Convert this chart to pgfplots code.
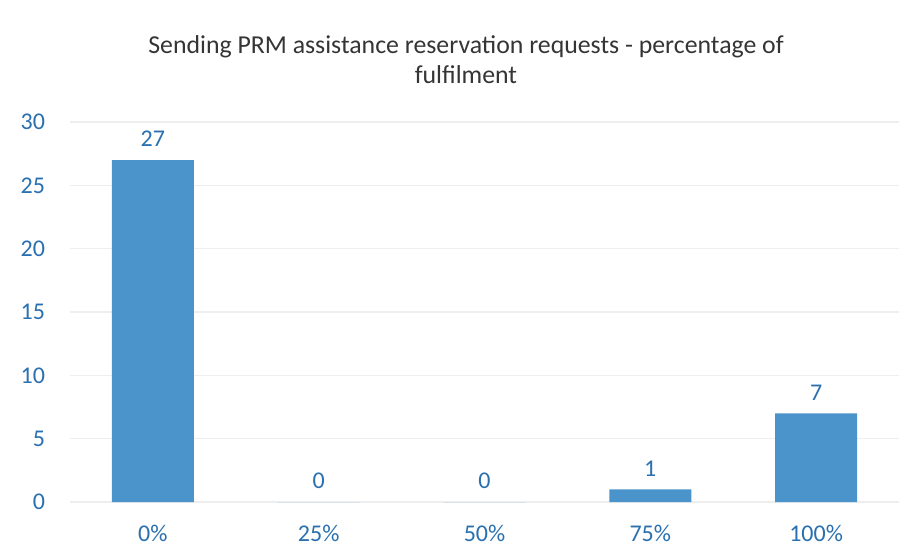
\documentclass[border=0pt]{standalone}
\usepackage{pgfplots}
\pgfplotsset{compat=1.18}
\usepackage{fontspec}
\setmainfont{Carlito}
\definecolor{barblue}{HTML}{4A94CB}
\definecolor{baredge}{HTML}{3D82B8}
\definecolor{tickblue}{HTML}{2A70B0}
\definecolor{titlegray}{HTML}{353535}
\definecolor{gridgray}{HTML}{EEEEEE}
\begin{document}
\begin{tikzpicture}
\useasboundingbox[fill=white] (0,0) rectangle (461pt,279.5pt);
\node[align=center, font=\fontsize{12.9}{15}\selectfont, text=titlegray] at (233pt,249.5pt)
  {Sending PRM assistance reservation requests - percentage of\\fulfilment};
\begin{axis}[
  at={(35pt,28.5pt)}, anchor=south west,
  scale only axis, width=414.5pt, height=190pt,
  xmin=-0.5, xmax=4.5, ymin=0, ymax=30,
  ytick={0,5,...,30},
  xtick=data,
  xticklabels={0\%,25\%,50\%,75\%,100\%},
  axis line style={draw=none},
  major tick length=0pt,
  ymajorgrids, grid style={gridgray, line width=0.6pt},
  ticklabel style={font=\fontsize{12}{14}\selectfont, text=tickblue},
  yticklabel style={xshift=-9pt},
  xticklabel style={yshift=-8pt},
  /pgf/number format/assume math mode=true,
  ybar, bar width=41pt,
  nodes near coords,
  every node near coord/.append style={font=\fontsize{12}{14}\selectfont, text=tickblue, yshift=3pt},
]
\addplot[fill=barblue, draw=none] coordinates {(0,27) (1,0) (2,0) (3,1) (4,7)};
\end{axis}
\end{tikzpicture}
\end{document}
